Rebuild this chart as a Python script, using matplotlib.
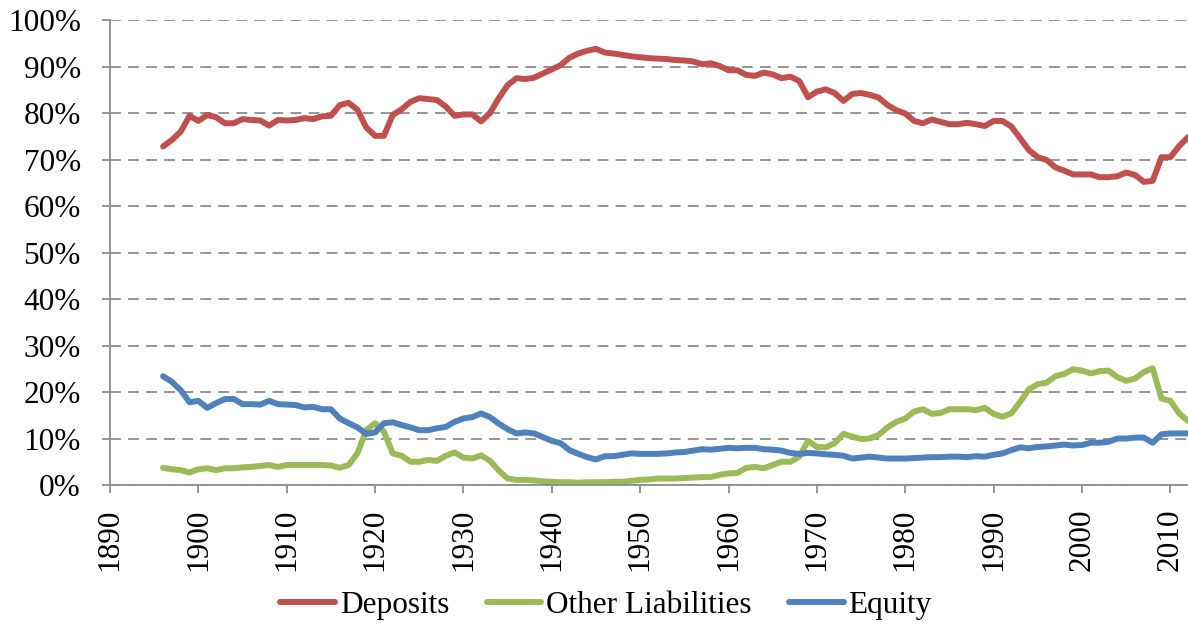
import matplotlib
matplotlib.use("Agg")
import matplotlib.pyplot as plt
import numpy as np
from matplotlib.ticker import FuncFormatter, MultipleLocator

plt.rcParams['font.family'] = ['Liberation Serif', 'DejaVu Serif']

years = list(range(1896, 2013))

# Deposits share of liabilities (%)
deposits = [
    72.8, 74.2, 76.0, 79.4, 78.3, 79.6, 79.1, 77.8, 77.8, 78.7,   # 1896-1905
    78.5, 78.4, 77.3, 78.5, 78.4, 78.5, 78.9, 78.7, 79.3, 79.4,   # 1906-1915
    81.7, 82.2, 80.7, 76.9, 75.1, 75.1, 79.6, 80.8, 82.4, 83.2,   # 1916-1925
    83.0, 82.8, 81.4, 79.4, 79.7, 79.7, 78.2, 80.0, 83.2, 86.0,   # 1926-1935
    87.5, 87.3, 87.6, 88.5, 89.4, 90.3, 91.9, 92.8, 93.4, 93.8,   # 1936-1945
    93.0, 92.8, 92.5, 92.2, 92.0, 91.8, 91.7, 91.6, 91.4, 91.3,   # 1946-1955
    91.1, 90.5, 90.7, 90.1, 89.2, 89.2, 88.2, 88.0, 88.7, 88.3,   # 1956-1965
    87.5, 87.8, 86.9, 83.4, 84.6, 85.1, 84.3, 82.6, 84.1, 84.3,   # 1966-1975
    83.9, 83.3, 81.7, 80.6, 79.9, 78.3, 77.8, 78.6, 78.1, 77.6,   # 1976-1985
    77.6, 77.9, 77.6, 77.2, 78.3, 78.3, 77.1, 74.6, 72.0, 70.5,   # 1986-1995
    69.9, 68.3, 67.6, 66.8, 66.8, 66.8, 66.2, 66.2, 66.4, 67.2,   # 1996-2005
    66.7, 65.2, 65.4, 70.5, 70.5, 72.9, 74.8,                     # 2006-2012
]

# Other liabilities (%)
other = [
    3.7, 3.4, 3.2, 2.7, 3.4, 3.6, 3.2, 3.6, 3.6, 3.8,
    3.9, 4.1, 4.3, 3.9, 4.3, 4.3, 4.3, 4.3, 4.3, 4.2,
    3.7, 4.3, 6.8, 11.8, 13.3, 11.5, 6.8, 6.3, 5.0, 5.0,
    5.4, 5.2, 6.3, 7.0, 5.9, 5.7, 6.4, 5.2, 3.1, 1.4,
    1.1, 1.1, 1.0, 0.8, 0.7, 0.6, 0.6, 0.5, 0.6, 0.6,
    0.6, 0.7, 0.7, 0.9, 1.1, 1.2, 1.4, 1.4, 1.4, 1.5,
    1.6, 1.7, 1.7, 2.2, 2.5, 2.6, 3.7, 3.9, 3.6, 4.3,
    5.0, 5.0, 6.1, 9.5, 8.2, 8.1, 9.0, 11.0, 10.4, 9.9,
    10.0, 10.8, 12.4, 13.6, 14.3, 15.8, 16.3, 15.3, 15.5, 16.3,
    16.3, 16.3, 16.1, 16.6, 15.3, 14.7, 15.4, 17.9, 20.6, 21.7,
    22.0, 23.4, 23.9, 24.9, 24.6, 24.0, 24.5, 24.6, 23.2, 22.4,
    22.9, 24.3, 25.1, 18.6, 18.1, 15.4, 13.8,
]

# Equity (%)
equity = [
    23.4, 22.2, 20.4, 17.8, 18.1, 16.6, 17.6, 18.5, 18.5, 17.4,
    17.4, 17.3, 18.1, 17.4, 17.3, 17.2, 16.7, 16.8, 16.3, 16.3,
    14.3, 13.3, 12.4, 11.0, 11.3, 13.3, 13.5, 12.9, 12.4, 11.8,
    11.8, 12.2, 12.5, 13.6, 14.3, 14.6, 15.4, 14.6, 13.2, 12.0,
    11.1, 11.3, 11.1, 10.3, 9.5, 9.0, 7.5, 6.7, 6.0, 5.5,
    6.2, 6.2, 6.5, 6.8, 6.7, 6.7, 6.7, 6.8, 7.0, 7.1,
    7.4, 7.7, 7.6, 7.8, 8.0, 7.9, 8.0, 8.0, 7.7, 7.6,
    7.4, 6.9, 6.7, 6.9, 6.8, 6.6, 6.5, 6.3, 5.7, 5.9,
    6.1, 5.9, 5.7, 5.7, 5.7, 5.8, 5.9, 6.0, 6.0, 6.1,
    6.1, 6.0, 6.2, 6.1, 6.5, 6.8, 7.5, 8.1, 7.9, 8.2,
    8.3, 8.5, 8.7, 8.5, 8.6, 9.1, 9.1, 9.3, 10.0, 10.0,
    10.2, 10.2, 9.1, 10.9, 11.1, 11.1, 11.1,
]

fig = plt.figure(figsize=(11.88, 6.26), dpi=100)
ax = fig.add_axes([0.0926, 0.2252, 0.9074, 0.7428])

ax.grid(axis='y', color='#8c8c8c', linestyle=(0, (6, 4)), linewidth=1.3)
ax.set_axisbelow(True)

lw = 4.3
style = dict(lw=lw, solid_capstyle='round', solid_joinstyle='round')
ax.plot(years, deposits, color='#C0504D', label='Deposits', **style)
ax.plot(years, other, color='#9BBB59', label='Other Liabilities', **style)
ax.plot(years, equity, color='#4F81BD', label='Equity', **style)

ax.set_xlim(1890, 2012)
ax.set_ylim(0, 100)
ax.xaxis.set_major_locator(MultipleLocator(10))
ax.yaxis.set_major_locator(MultipleLocator(10))
ax.yaxis.set_major_formatter(FuncFormatter(lambda v, p: f"{v:.0f}%"))

for s in ['top', 'right']:
    ax.spines[s].set_visible(False)
for s in ['left', 'bottom']:
    ax.spines[s].set_color('#8c8c8c')
    ax.spines[s].set_linewidth(1.3)

ax.tick_params(axis='both', colors='#8c8c8c', width=1.3, length=6, labelcolor='black', labelsize=22.5)
ax.tick_params(axis='y', pad=15)
ax.tick_params(axis='x', pad=11)
plt.setp(ax.get_xticklabels(), rotation=90)

leg = fig.legend(loc='center', bbox_to_anchor=(0.51, 0.033), ncol=3, frameon=False,
                 fontsize=22.5, handlelength=1.75, handletextpad=0.15, columnspacing=1.2)

fig.savefig('out.png', dpi=100)
